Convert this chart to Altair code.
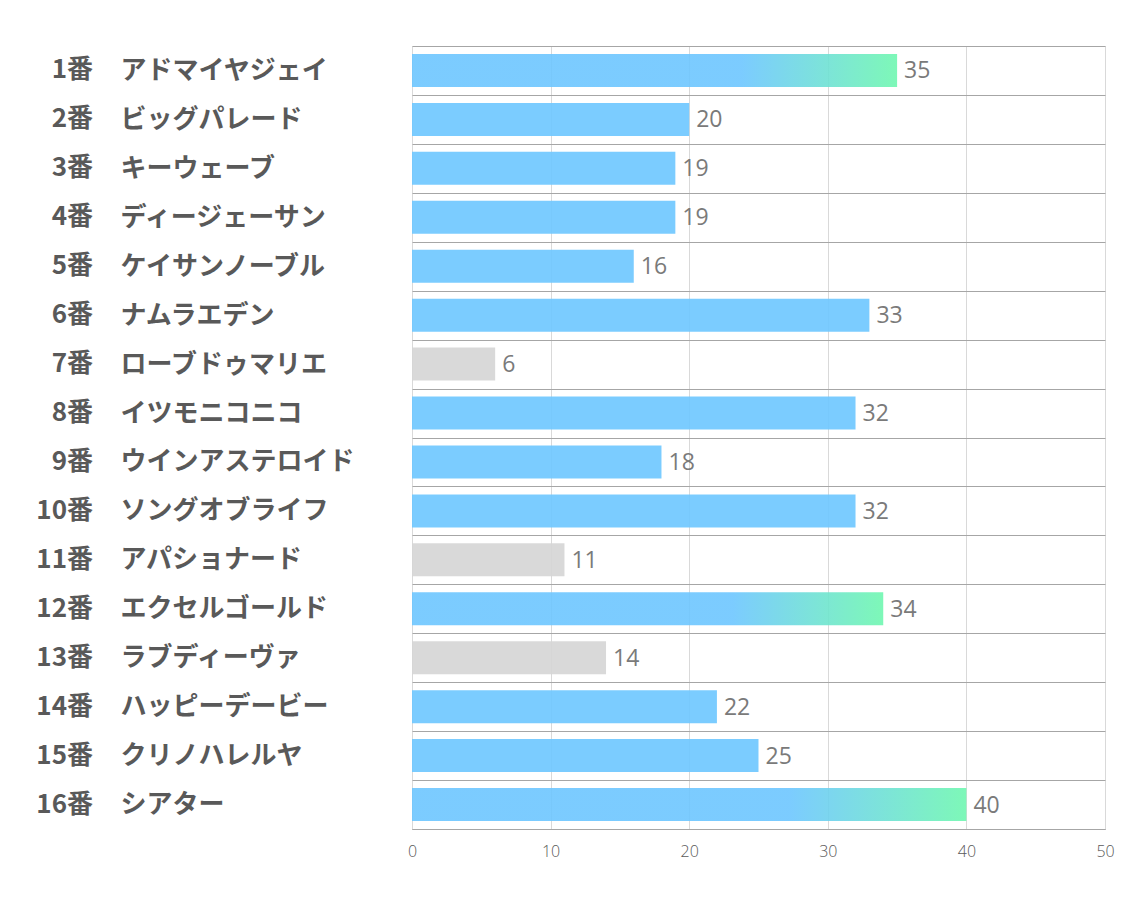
import altair as alt
import pandas as pd

numbers = ["1番", "2番", "3番", "4番", "5番", "6番", "7番", "8番",
           "9番", "10番", "11番", "12番", "13番", "14番", "15番", "16番"]
names = ["アドマイヤジェイ", "ビッグパレード", "キーウェーブ", "ディージェーサン",
         "ケイサンノーブル", "ナムラエデン", "ローブドゥマリエ", "イツモニコニコ",
         "ウインアステロイド", "ソングオブライフ", "アパショナード", "エクセルゴールド",
         "ラブディーヴァ", "ハッピーデービー", "クリノハレルヤ", "シアター"]
values = [35, 20, 19, 19, 16, 33, 6, 32, 18, 32, 11, 34, 14, 22, 25, 40]
kinds = ["top", "mid", "mid", "mid", "mid", "mid", "low", "mid",
         "mid", "mid", "low", "top", "low", "mid", "mid", "top"]

df = pd.DataFrame({"num": numbers, "name": names, "value": values, "kind": kinds})

FONT_JP = "Noto Sans CJK JP"
FONT_NUM = "Open Sans"
TXT = "#595959"
BAR_H = 33

y_enc = alt.Y("name:N", sort=names,
              scale=alt.Scale(paddingInner=0, paddingOuter=0),
              axis=alt.Axis(title=None, domain=False, ticks=False, tickSize=0,
                            labelAlign="left", labelPadding=292, labelBaseline="middle",
                            labelFont=FONT_JP, labelFontSize=26, labelFontWeight="bold",
                            labelColor=TXT, grid=True, gridColor="#A6A6A6",
                            gridWidth=1, tickBand="extent", labelLimit=400))
x_enc = alt.X("value:Q", scale=alt.Scale(domain=[0, 50]),
              axis=alt.Axis(title=None, values=[0, 10, 20, 30, 40, 50], grid=True,
                            gridColor="#D9D9D9", ticks=False, tickSize=0,
                            domain=True, domainColor="#A6A6A6", labelFlush=False,
                            labelFont=FONT_NUM, labelFontSize=16, labelFontWeight=300,
                            labelColor=TXT, labelPadding=14))

base = alt.Chart(df)

gradient = {
    "gradient": "linear", "x1": 0, "x2": 1, "y1": 0, "y2": 0,
    "stops": [
        {"offset": 0, "color": "#6DC6FF"},
        {"offset": 0.68, "color": "#6DC6FF"},
        {"offset": 1, "color": "#6FF7B0"},
    ],
}

bars_top = base.transform_filter(alt.datum.kind == "top").mark_bar(
    color=gradient, opacity=0.9, height=BAR_H).encode(x=x_enc, y=y_enc)
bars_mid = base.transform_filter(alt.datum.kind == "mid").mark_bar(
    color="#6DC6FF", opacity=0.9, height=BAR_H).encode(x=x_enc, y=y_enc)
bars_low = base.transform_filter(alt.datum.kind == "low").mark_bar(
    color="#D5D5D5", opacity=0.9, height=BAR_H).encode(x=x_enc, y=y_enc)

value_labels = base.mark_text(align="left", baseline="middle", dx=7, dy=1,
                              font=FONT_NUM, fontSize=23, color="#7A7A7A").encode(
    x="value:Q", y=alt.Y("name:N", sort=names), text="value:Q")

num_labels = base.mark_text(align="right", baseline="middle", font=FONT_JP,
                            fontSize=26, fontWeight="bold", color=TXT).encode(
    x=alt.value(-319), y=alt.Y("name:N", sort=names), text="num:N")

chart = alt.layer(bars_top, bars_mid, bars_low, value_labels, num_labels).properties(
    width=693, height=783,
    padding={"left": 404, "top": 38, "right": 20, "bottom": 60},
    autosize=alt.AutoSizeParams(type="none"),
).configure_view(stroke=None).configure(background="white")

chart.save("out.html", embed_options={"renderer": "svg", "actions": False})
